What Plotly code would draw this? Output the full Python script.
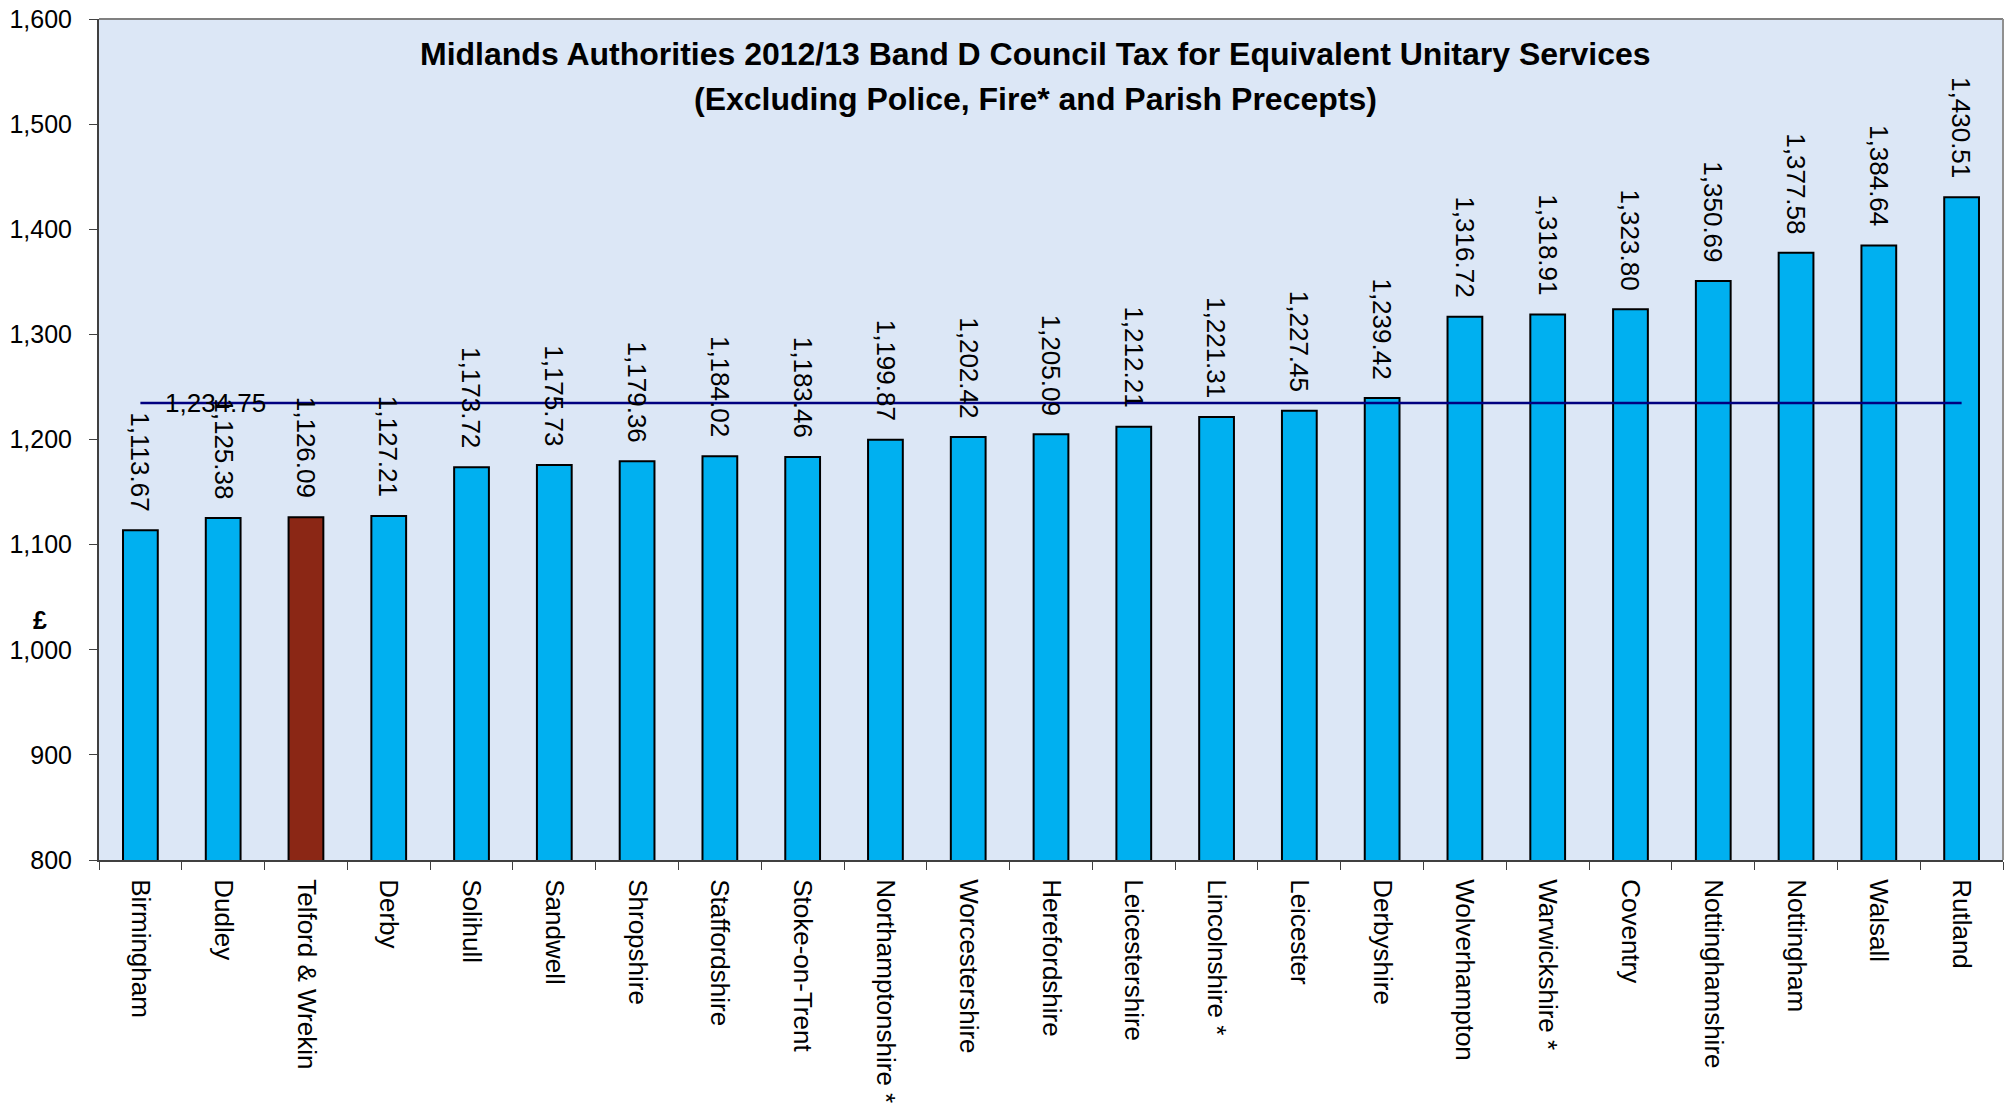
import plotly.graph_objects as go

categories = ["Birmingham", "Dudley", "Telford & Wrekin", "Derby", "Solihull", "Sandwell",
              "Shropshire", "Staffordshire", "Stoke-on-Trent", "Northamptonshire *",
              "Worcestershire", "Herefordshire", "Leicestershire", "Lincolnshire *",
              "Leicester", "Derbyshire", "Wolverhampton", "Warwickshire *", "Coventry",
              "Nottinghamshire", "Nottingham", "Walsall", "Rutland"]
values = [1113.67, 1125.38, 1126.09, 1127.21, 1173.72, 1175.73, 1179.36, 1184.02, 1183.46,
          1199.87, 1202.42, 1205.09, 1212.21, 1221.31, 1227.45, 1239.42, 1316.72, 1318.91,
          1323.80, 1350.69, 1377.58, 1384.64, 1430.51]
highlight = "Telford & Wrekin"
average = 1234.75
y_ticks = [800, 900, 1000, 1100, 1200, 1300, 1400, 1500, 1600]
title_lines = ["Midlands Authorities 2012/13 Band D Council Tax for Equivalent Unitary Services",
               "(Excluding Police, Fire* and Parish Precepts)"]

FONT = "Liberation Sans, Arial, sans-serif"
bar_colors = ["#8B2715" if c == highlight else "#00B0F0" for c in categories]

fig = go.Figure()
fig.add_trace(go.Bar(
    x=categories, y=values,
    marker=dict(color=bar_colors, line=dict(color="#000000", width=2)),
    hoverinfo="x+y",
))
fig.add_trace(go.Scatter(
    x=categories, y=[average] * len(categories), mode="lines",
    line=dict(color="#000080", width=2.5), hoverinfo="skip",
))
for c, v in zip(categories, values):
    fig.add_annotation(x=c, y=v, xref="x", yref="y", text=f"{v:,.2f}",
                       showarrow=False, textangle=90, xanchor="center", yanchor="bottom",
                       yshift=17, font=dict(family=FONT, size=26, color="#000000"))
fig.add_annotation(x=categories[1], y=average, xref="x", yref="y", text=f"{average:,.2f}",
                   showarrow=False, xanchor="center", yanchor="middle", xshift=-8,
                   font=dict(family=FONT, size=26, color="#000000"))
fig.add_annotation(x=-0.031, y=1028, xref="paper", yref="y", text="<b>£</b>",
                   showarrow=False, xanchor="center", yanchor="middle",
                   font=dict(family=FONT, size=25, color="#000000"))
# title lines
fig.add_annotation(x=0.492, y=0.958, xref="paper", yref="paper", text=f"<b>{title_lines[0]}</b>",
                   showarrow=False, xanchor="center", yanchor="middle",
                   font=dict(family=FONT, size=32, color="#000000"))
fig.add_annotation(x=0.492, y=0.905, xref="paper", yref="paper", text=f"<b>{title_lines[1]}</b>",
                   showarrow=False, xanchor="center", yanchor="middle",
                   font=dict(family=FONT, size=32, color="#000000"))

# top and right frame of plot area
fig.add_shape(type="line", xref="paper", yref="paper", x0=0, x1=1, y0=1, y1=1,
              line=dict(color="#808080", width=2))
fig.add_shape(type="line", xref="paper", yref="paper", x0=1, x1=1, y0=0, y1=1,
              line=dict(color="#909090", width=2))

fig.update_layout(
    width=2005, height=1107,
    margin=dict(l=99, r=2, t=19, b=247, autoexpand=False),
    paper_bgcolor="#FFFFFF", plot_bgcolor="#DCE7F6",
    showlegend=False, bargap=0.58,
    font=dict(family=FONT, size=26, color="#000000"),
    xaxis=dict(type="category", tickangle=90, ticks="outside", tickson="boundaries",
               ticklen=8, tickcolor="#404040", showline=True, linecolor="#404040",
               linewidth=2, showgrid=False, ticklabelstandoff=12,
               automargin=False, ticklabeloverflow="allow",
               tickfont=dict(family=FONT, size=26, color="#000000")),
    yaxis=dict(range=[800, 1600], tickvals=y_ticks, tickformat=",d", ticks="outside",
               ticklen=8, tickcolor="#404040", showline=True, linecolor="#404040",
               linewidth=2, showgrid=False, zeroline=False, ticklabelstandoff=12,
               automargin=False, ticklabeloverflow="allow",
               tickfont=dict(family=FONT, size=25, color="#000000")),
)
fig.write_html("out.html", config={"displayModeBar": False},
               post_script="document.body.style.margin='0';document.body.style.overflow='hidden';")
